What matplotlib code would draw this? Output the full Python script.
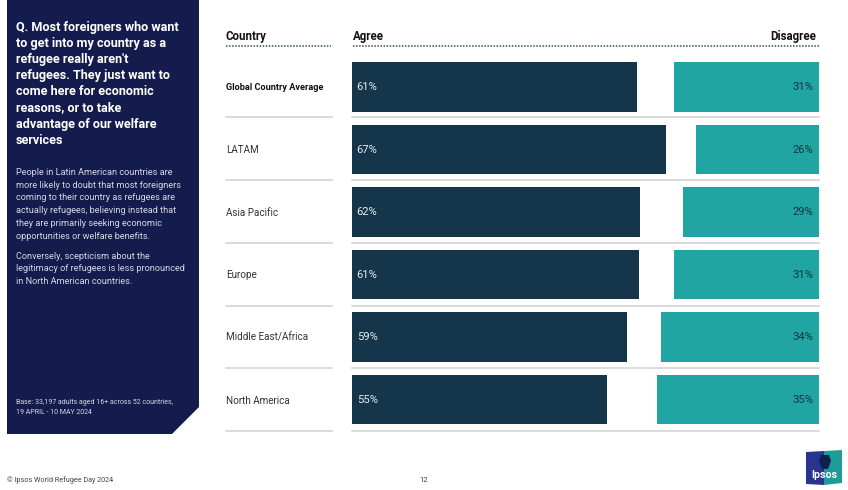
import matplotlib
matplotlib.use('Agg')
import matplotlib.pyplot as plt
from matplotlib.patches import Polygon, Rectangle

plt.rcParams['font.family'] = ['Roboto', 'DejaVu Sans']

# Data
regions = ['Global Country Average', 'LATAM', 'Asia Pacific', 'Europe', 'Middle East/Africa', 'North America']
agree_values = [60.9, 67.0, 61.6, 61.2, 58.7, 54.5]
disagree_values = [31.0, 26.3, 28.9, 31.0, 33.7, 34.5]
agree_labels = ['61%', '67%', '62%', '61%', '59%', '55%']
disagree_labels = ['31%', '26%', '29%', '31%', '34%', '35%']

question = ("Q. Most foreigners who want\nto get into my country as a\nrefugee really aren't\n"
            "refugees. They just want to\ncome here for economic\nreasons, or to take\n"
            "advantage of our welfare\nservices")
body_1 = ("People in Latin American countries are\nmore likely to doubt that most foreigners\n"
          "coming to their country as refugees are\nactually refugees, believing instead that\n"
          "they are primarily seeking economic\nopportunities or welfare benefits.")
body_2 = ("Conversely, scepticism about the\nlegitimacy of refugees is less pronounced\n"
          "in North American countries.")
base_note = "Base: 33,197 adults aged 16+ across 52 countries,\n19 APRIL - 10 MAY 2024"
footer = "© Ipsos World Refugee Day 2024"
page_no = "12"

NAVY = '#141b4d'
DARK = '#15364a'
TEAL = '#21a5a2'
W, H = 848, 490

fig = plt.figure(figsize=(W / 100, H / 100), dpi=100)

# Background axes in pixel units for the slide furniture
bg = fig.add_axes([0, 0, 1, 1])
bg.set_xlim(0, W)
bg.set_ylim(H, 0)
bg.axis('off')

bg.add_patch(Polygon([(7, 0), (199, 0), (199, 407), (172, 434), (7, 434)], closed=True, color=NAVY, lw=0))
bg.text(15.5, 21, question, color='white', fontsize=9.1, fontweight='bold', va='top', linespacing=1.31)
bg.text(15.5, 168, body_1, color='#d5d7e2', fontsize=6.6, va='top', linespacing=1.53)
bg.text(15.5, 251.5, body_2, color='#d5d7e2', fontsize=6.6, va='top', linespacing=1.53)
bg.text(15.5, 398.5, base_note, color='#d5d7e2', fontsize=5.0, va='top', linespacing=1.7)
bg.text(7, 480, footer, color='#444444', fontsize=5.2, va='center')
bg.text(424, 480, page_no, color='#444444', fontsize=5.6, va='center', ha='center')

# Column headers
bg.text(226, 36.5, 'Country', color='#111111', fontsize=8.3, fontweight='bold', va='center')
bg.text(353, 36.5, 'Agree', color='#111111', fontsize=8.3, fontweight='bold', va='center')
bg.text(816, 36.5, 'Disagree', color='#111111', fontsize=8.3, fontweight='bold', va='center', ha='right')
bg.plot([226, 331], [46.5, 46.5], color='#2f4f68', lw=1.1, ls=(0, (1, 1)))
bg.plot([353, 819], [46.5, 46.5], color='#2f4f68', lw=1.1, ls=(0, (1, 1)))

# Logo
bg.add_patch(Polygon([(806, 452), (824, 451), (824, 485), (806, 484)], closed=True, color='#27358f', lw=0))
bg.add_patch(Polygon([(824, 451), (842, 450), (842, 483), (824, 485)], closed=True, color='#1f9c98', lw=0))
bg.add_patch(Polygon([(821, 455), (829, 455), (831, 461), (828, 469), (822, 469), (819, 461)], closed=True, color='#10204f', lw=0))
bg.text(824, 475, 'Ipsos', color='white', fontsize=7.6, fontweight='bold', ha='center', va='center')

# Bars
x0, x1 = 351.5, 819
y0, y1 = 55.75, 430.75
ax = fig.add_axes([x0 / W, 1 - y1 / H, (x1 - x0) / W, (y1 - y0) / H])
xmax = (x1 - x0) / 4.69
ax.set_xlim(0, xmax)
ax.set_ylim(len(regions) - 0.5, -0.5)
ax.axis('off')
ax.patch.set_alpha(0)

ypos = list(range(len(regions)))
ax.barh(ypos, agree_values, height=0.79, color=DARK)
ax.barh(ypos, disagree_values, left=[xmax - d for d in disagree_values], height=0.79, color=TEAL)

for i, region in enumerate(regions):
    ax.text(1.1, i, agree_labels[i], color='#e6ecef', fontsize=8.1, va='center')
    ax.text(xmax - 1.2, i, disagree_labels[i], color='#12343f', fontsize=8.1, va='center', ha='right')
    weight = 'bold' if i == 0 else 'normal'
    color = '#111111' if i == 0 else '#333333'
    size = 6.55 if i == 0 else 7.1
    row_y = 87.5 + i * 62.6
    bg.text(226.5, row_y, region, color=color, fontsize=size, fontweight=weight, va='center')
    sep_y = 117.5 + i * 62.7
    bg.plot([226, 332], [sep_y, sep_y], color='#d4d4d4', lw=1.2)
    bg.plot([351.5, 819], [sep_y, sep_y], color='#d4d4d4', lw=1.2)

fig.savefig('out.png', dpi=100)
